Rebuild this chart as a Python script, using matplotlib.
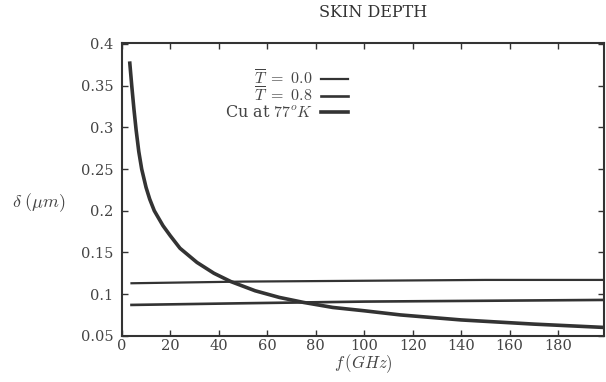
import matplotlib
matplotlib.use("Agg")
import matplotlib.pyplot as plt

# Cu at 77 K
f_cu = [3.3, 4.1, 5, 5.9, 7, 8.2, 10, 11.5, 13.4, 17, 20, 24, 31, 38, 45, 55,
        65, 75, 87, 100, 115, 140, 170, 199]
d_cu = [0.377, 0.350, 0.322, 0.297, 0.271, 0.250, 0.228, 0.214, 0.200, 0.182,
        0.170, 0.155, 0.138, 0.125, 0.115, 0.104, 0.096, 0.090, 0.084, 0.080,
        0.075, 0.069, 0.064, 0.060]

# T = 0.0 and T = 0.8
f_t = [4, 50, 100, 150, 199]
d_t00 = [0.113, 0.115, 0.116, 0.117, 0.117]
d_t08 = [0.087, 0.089, 0.091, 0.092, 0.093]

xticks = [0, 20, 40, 60, 80, 100, 120, 140, 160, 180]
yticks = [0.05, 0.1, 0.15, 0.2, 0.25, 0.3, 0.35, 0.4]

plt.rcParams["font.family"] = ["DejaVu Serif"]
plt.rcParams["mathtext.fontset"] = "cm"

ink = "#333333"
fig = plt.figure(figsize=(6.06, 3.82), dpi=100)
ax = fig.add_axes([0.201, 0.121, 0.796, 0.766])

ax.plot(f_t, d_t00, color=ink, lw=1.6, label=r"$\overline{T}\ =\ 0.0$")
ax.plot(f_t, d_t08, color=ink, lw=1.9, label=r"$\overline{T}\ =\ 0.8$")
ax.plot(f_cu, d_cu, color=ink, lw=2.6, solid_joinstyle="round",
        label=r"Cu at $77^{o}K$")

ax.set_xlim(0, 199)
ax.set_ylim(0.05, 0.401)
ax.set_xticks(xticks)
ax.set_xticklabels([str(v) for v in xticks])
ax.set_yticks(yticks)
ax.set_yticklabels(["0.05", "0.1", "0.15", "0.2", "0.25", "0.3", "0.35", "0.4"])
ax.tick_params(direction="in", top=True, right=True, length=4, width=1,
               colors=ink, labelsize=10.5, labelcolor="#444444")
ax.tick_params(axis="x", pad=2)
ax.tick_params(axis="y", pad=6)
for s in ax.spines.values():
    s.set_linewidth(1.5)
    s.set_color(ink)

ax.set_title("SKIN DEPTH", fontsize=11.5, color="#333333", pad=19, x=0.52)
ax.set_xlabel(r"$f\,(GHz)$", fontsize=12, color="#444444", labelpad=0)
ax.set_ylabel(r"$\delta\;(\mu m)$", fontsize=13, color="#444444", rotation=0)
ax.yaxis.set_label_coords(-0.173, 0.415)

ax.legend(loc="upper right", bbox_to_anchor=(0.4685, 0.91), frameon=False,
          markerfirst=False, fontsize=11.5, handlelength=1.7, borderpad=0,
          borderaxespad=0, labelspacing=-0.1, handletextpad=0.5,
          labelcolor="#444444")

fig.savefig("out.png", dpi=100)
